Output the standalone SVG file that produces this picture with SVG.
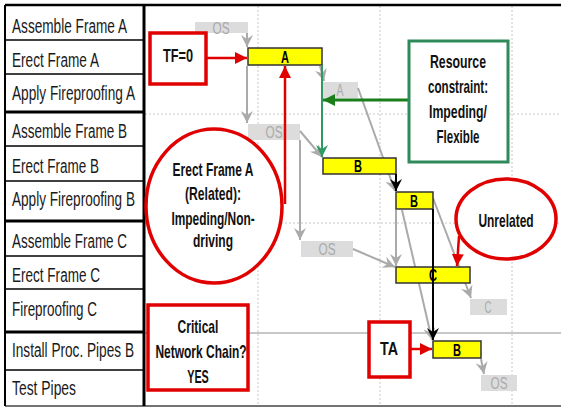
<svg xmlns="http://www.w3.org/2000/svg" width="561" height="407" viewBox="0 0 561 407">
<style>
.row{font-family:"Liberation Sans Narrow","Liberation Sans",Arial,sans-serif;font-size:21px;fill:#1a1a1a}
.note{font-family:"Liberation Sans Narrow","Liberation Sans",Arial,sans-serif;font-weight:bold;font-size:18px;fill:#111;text-anchor:middle}
.bar{fill:#ffff00;stroke:#333;stroke-width:1.5}
.barlbl{font-family:"Liberation Sans Narrow","Liberation Sans",Arial,sans-serif;font-weight:bold;font-size:17px;fill:#000;text-anchor:middle}
.ghost{fill:#dcdcdc}
.ghostlbl{font-family:"Liberation Sans Narrow","Liberation Sans",Arial,sans-serif;font-size:16px;fill:#aaa;text-anchor:middle}
.grid{stroke:#c8c8c8;stroke-width:1;stroke-dasharray:2,2;fill:none}
.gc{stroke:#aaa;stroke-width:2;fill:none;marker-end:url(#ag)}
.bc{stroke:#000;stroke-width:2;fill:none;marker-end:url(#ab)}
.rc{stroke:#e00000;stroke-width:2.5;fill:none;marker-end:url(#ar)}
.rbox{fill:#fff;stroke:#e00000;stroke-width:3.5}
</style>
<defs>
<marker id="ag" markerUnits="userSpaceOnUse" markerWidth="14" markerHeight="12" refX="12" refY="6" orient="auto"><path d="M0,0 L12,6 L0,12 L4,6 z" fill="#aaa"/></marker>
<marker id="ab" markerUnits="userSpaceOnUse" markerWidth="14" markerHeight="12" refX="12" refY="6" orient="auto"><path d="M0,0 L12,6 L0,12 L4,6 z" fill="#000"/></marker>
<marker id="ar" markerUnits="userSpaceOnUse" markerWidth="14" markerHeight="12" refX="12" refY="6" orient="auto"><path d="M0,0 L12,6 L0,12 z" fill="#e00000"/></marker>
<marker id="agr" markerUnits="userSpaceOnUse" markerWidth="14" markerHeight="12" refX="12" refY="6" orient="auto"><path d="M0,0 L12,6 L0,12 z" fill="#1a7f1a"/></marker>
<marker id="asg" markerUnits="userSpaceOnUse" markerWidth="14" markerHeight="12" refX="12" refY="6" orient="auto"><path d="M0,0 L12,6 L0,12 L4,6 z" fill="#2f9a62"/></marker>
</defs>
<rect width="561" height="407" fill="#fff"/>
<g id="grid">
<line class="grid" x1="258" y1="6" x2="258" y2="406"/>
<line class="grid" x1="380" y1="6" x2="380" y2="406"/>
<line class="grid" x1="512" y1="6" x2="512" y2="406"/>
<line class="grid" x1="145" y1="114" x2="561" y2="114"/>
<line class="grid" x1="145" y1="223" x2="561" y2="223"/>
<line x1="145" y1="333" x2="561" y2="333" stroke="#b4b4b4" stroke-width="1.5"/>
</g>
<g id="table" stroke="#000" fill="none">
<line x1="5" y1="5" x2="561" y2="5" stroke-width="2.5"/>
<line x1="5" y1="406" x2="561" y2="406" stroke-width="1.5" stroke="#444"/>
<line x1="5" y1="5" x2="5" y2="406" stroke-width="2"/>
<line x1="144" y1="5" x2="144" y2="406" stroke-width="3"/>
<line x1="5" y1="40" x2="144" y2="40" stroke-width="1.5"/>
<line x1="5" y1="74" x2="144" y2="74" stroke-width="1.5"/>
<line x1="5" y1="112" x2="144" y2="112" stroke-width="3"/>
<line x1="5" y1="146" x2="144" y2="146" stroke-width="1.5"/>
<line x1="5" y1="181" x2="144" y2="181" stroke-width="1.5"/>
<line x1="5" y1="221" x2="144" y2="221" stroke-width="3"/>
<line x1="5" y1="256" x2="144" y2="256" stroke-width="1.5"/>
<line x1="5" y1="289" x2="144" y2="289" stroke-width="1.5"/>
<line x1="5" y1="332" x2="144" y2="332" stroke-width="3"/>
<line x1="5" y1="370" x2="144" y2="370" stroke-width="1.5"/>
</g>
<g id="rows">
<text class="row" transform="translate(12,33) scale(0.79,1)" textLength="145.6" lengthAdjust="spacingAndGlyphs">Assemble Frame A</text>
<text class="row" transform="translate(12,67) scale(0.79,1)" textLength="110.1" lengthAdjust="spacingAndGlyphs">Erect Frame A</text>
<text class="row" transform="translate(12,100) scale(0.79,1)" textLength="155.7" lengthAdjust="spacingAndGlyphs">Apply Fireproofing A</text>
<text class="row" transform="translate(12,138) scale(0.79,1)" textLength="145.6" lengthAdjust="spacingAndGlyphs">Assemble Frame B</text>
<text class="row" transform="translate(12,173) scale(0.79,1)" textLength="110.1" lengthAdjust="spacingAndGlyphs">Erect Frame B</text>
<text class="row" transform="translate(12,206) scale(0.79,1)" textLength="155.7" lengthAdjust="spacingAndGlyphs">Apply Fireproofing B</text>
<text class="row" transform="translate(12,248) scale(0.79,1)" textLength="145.6" lengthAdjust="spacingAndGlyphs">Assemble Frame C</text>
<text class="row" transform="translate(12,282) scale(0.79,1)" textLength="111.4" lengthAdjust="spacingAndGlyphs">Erect Frame C</text>
<text class="row" transform="translate(12,316) scale(0.79,1)" textLength="107.6" lengthAdjust="spacingAndGlyphs">Fireproofing C</text>
<text class="row" transform="translate(12,357) scale(0.79,1)" textLength="154.4" lengthAdjust="spacingAndGlyphs">Install Proc. Pipes B</text>
<text class="row" transform="translate(12,395) scale(0.79,1)" textLength="81" lengthAdjust="spacingAndGlyphs">Test Pipes</text>
</g>
<g id="ghost-os1"><rect class="ghost" x="195" y="22" width="53" height="11"/><text class="ghostlbl" x="221" y="34" textLength="17" lengthAdjust="spacingAndGlyphs">OS</text></g>
<g id="ghost-a"><rect class="ghost" x="323" y="82" width="35" height="16"/><text class="ghostlbl" x="340" y="96" textLength="7" lengthAdjust="spacingAndGlyphs">A</text></g>
<g id="ghost-os2"><rect class="ghost" x="248" y="124" width="52" height="16"/><text class="ghostlbl" x="274" y="138" textLength="17" lengthAdjust="spacingAndGlyphs">OS</text></g>
<g id="ghost-os3"><rect class="ghost" x="301" y="241" width="52" height="16"/><text class="ghostlbl" x="327" y="255" textLength="17" lengthAdjust="spacingAndGlyphs">OS</text></g>
<g id="ghost-c"><rect class="ghost" x="470" y="299" width="37" height="16"/><text class="ghostlbl" x="488" y="313" textLength="7" lengthAdjust="spacingAndGlyphs">C</text></g>
<g id="ghost-os4"><rect class="ghost" x="481" y="375" width="36" height="16"/><text class="ghostlbl" x="499" y="389" textLength="17" lengthAdjust="spacingAndGlyphs">OS</text></g>
<g id="connectors-behind">
<line class="gc" x1="247" y1="33" x2="247" y2="47"/>
<line class="gc" x1="247" y1="66" x2="247" y2="123"/>
<line class="gc" x1="320" y1="66" x2="324" y2="81"/>
<line class="gc" x1="358" y1="88" x2="395" y2="191"/>
<line class="gc" x1="300" y1="131" x2="322" y2="157"/>
<line class="gc" x1="300" y1="140" x2="300" y2="240"/>
<line class="gc" x1="353" y1="249" x2="395" y2="267"/>
<line class="gc" x1="396" y1="210" x2="396" y2="266"/>
<line class="gc" x1="402" y1="210" x2="432" y2="340"/>
<line class="gc" x1="433" y1="198" x2="471" y2="298"/>
<line class="gc" x1="481" y1="359" x2="484" y2="374"/>
</g>
<g id="bar-a"><rect class="bar" x="248" y="48" width="74" height="17"/><text class="barlbl" x="285" y="63" textLength="8" lengthAdjust="spacingAndGlyphs">A</text></g>
<g id="bar-b1"><rect class="bar" x="323" y="158" width="73" height="16"/><text class="barlbl" x="358" y="172" textLength="8" lengthAdjust="spacingAndGlyphs">B</text></g>
<g id="bar-b2"><rect class="bar" x="396" y="192" width="37" height="17"/><text class="barlbl" x="414" y="207" textLength="8" lengthAdjust="spacingAndGlyphs">B</text></g>
<g id="bar-c"><rect class="bar" x="396" y="267" width="74" height="16"/><text class="barlbl" x="433" y="281" textLength="8" lengthAdjust="spacingAndGlyphs">C</text></g>
<g id="bar-b3"><rect class="bar" x="433" y="341" width="48" height="17"/><text class="barlbl" x="457" y="356" textLength="8" lengthAdjust="spacingAndGlyphs">B</text></g>
<g id="connectors">
<line class="bc" x1="396" y1="174" x2="396" y2="191"/>
<line class="bc" x1="433" y1="209" x2="433" y2="340"/>
<line stroke="#2f9a62" stroke-width="2" x1="322" y1="65" x2="322" y2="157" marker-end="url(#asg)"/>
<line stroke="#1a7f1a" stroke-width="3" x1="409" y1="100" x2="323" y2="100" marker-end="url(#agr)"/>
<line class="rc" x1="206" y1="58" x2="247" y2="58"/>
<line class="rc" x1="285" y1="204" x2="285" y2="66"/>
<line class="rc" x1="459" y1="236" x2="457" y2="266"/>
<line class="rc" x1="410" y1="349" x2="432" y2="349"/>
</g>
<g id="tf0"><rect class="rbox" x="150" y="33" width="56" height="51"/><text class="note" font-size="20" transform="translate(178,62) scale(0.75,1)" textLength="40" lengthAdjust="spacingAndGlyphs">TF=0</text></g>
<g id="resource"><rect x="409" y="41" width="99" height="121" fill="#fff" stroke="#2f8a5a" stroke-width="3"/>
<text class="note" transform="translate(458,68) scale(0.85,1)" textLength="65.9" lengthAdjust="spacingAndGlyphs">Resource</text>
<text class="note" transform="translate(458,93) scale(0.85,1)" textLength="70.6" lengthAdjust="spacingAndGlyphs">constraint:</text>
<text class="note" transform="translate(458,118) scale(0.85,1)" textLength="68.2" lengthAdjust="spacingAndGlyphs">Impeding/</text>
<text class="note" transform="translate(458,143) scale(0.85,1)" textLength="50.6" lengthAdjust="spacingAndGlyphs">Flexible</text></g>
<g id="related"><ellipse cx="214" cy="206" rx="68" ry="77" fill="#fff" stroke="#e00000" stroke-width="3.5"/>
<text class="note" transform="translate(213,176) scale(0.8,1)" textLength="101" lengthAdjust="spacingAndGlyphs">Erect Frame A</text>
<text class="note" transform="translate(213,200) scale(0.8,1)" textLength="70" lengthAdjust="spacingAndGlyphs">(Related):</text>
<text class="note" transform="translate(213,225) scale(0.8,1)" textLength="104" lengthAdjust="spacingAndGlyphs">Impeding/Non-</text>
<text class="note" transform="translate(213,247) scale(0.8,1)" textLength="50" lengthAdjust="spacingAndGlyphs">driving</text></g>
<g id="unrelated"><ellipse cx="506" cy="219" rx="50" ry="40" fill="#fff" stroke="#e00000" stroke-width="3.5"/>
<text class="note" font-size="19" transform="translate(506,227) scale(0.8,1)" textLength="69" lengthAdjust="spacingAndGlyphs">Unrelated</text></g>
<g id="critical"><rect class="rbox" x="148" y="305" width="100" height="85"/>
<text class="note" font-size="19" transform="translate(198,333) scale(0.8,1)" textLength="51" lengthAdjust="spacingAndGlyphs">Critical</text>
<text class="note" font-size="19" transform="translate(201,358) scale(0.8,1)" textLength="114" lengthAdjust="spacingAndGlyphs">Network Chain?</text>
<text class="note" font-size="19" transform="translate(198,383) scale(0.8,1)" textLength="27" lengthAdjust="spacingAndGlyphs">YES</text></g>
<g id="ta"><rect class="rbox" x="369" y="322" width="41" height="55"/><text class="note" font-size="22" transform="translate(389,355) scale(0.75,1)" textLength="24" lengthAdjust="spacingAndGlyphs">TA</text></g>
</svg>
